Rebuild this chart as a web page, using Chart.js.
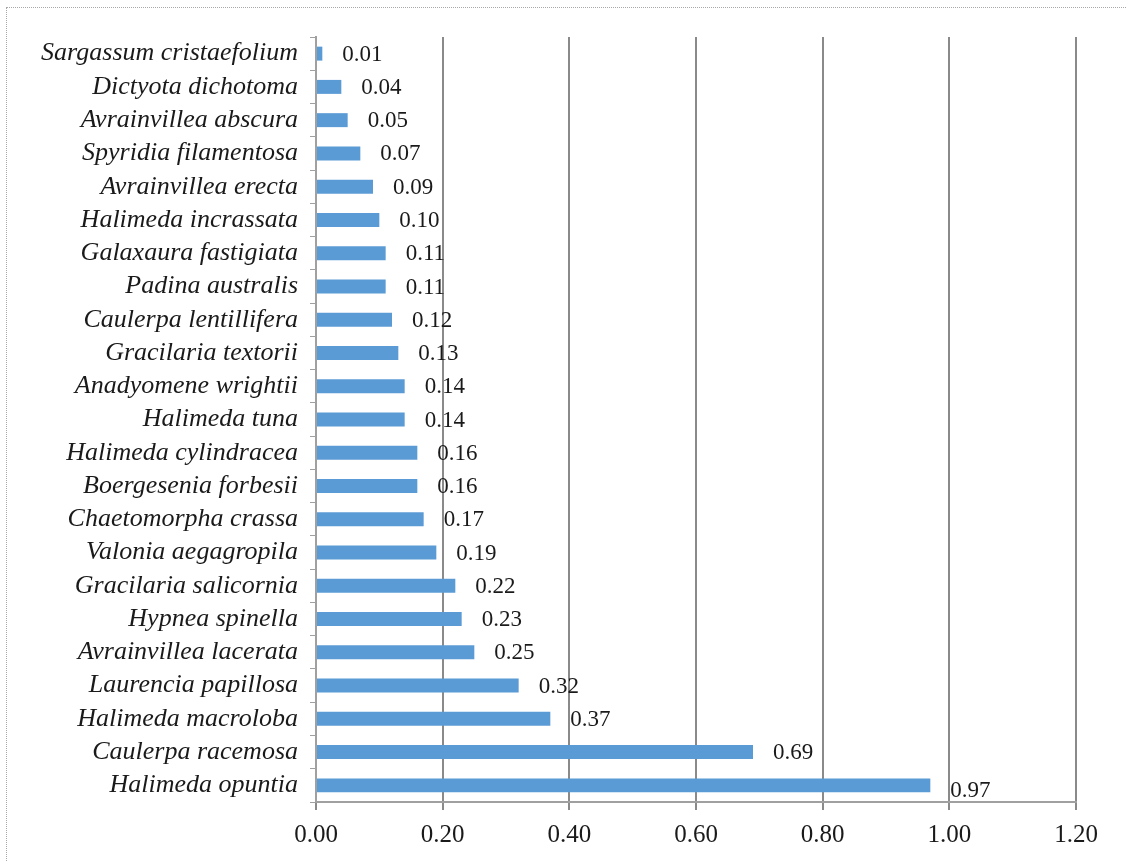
<!DOCTYPE html>
<html lang="en">
<head>
    <meta charset="UTF-8">
    <title>Algae bar chart</title>
    <script src="https://cdn.jsdelivr.net/npm/chart.js"></script>
    <style>
        body { margin: 0; background: #fff; }
        #wrap { position: relative; width: 1126px; height: 861px; }
        #frame { position: absolute; left: 6px; top: 7px; width: 1130px; height: 870px; border: 1px dotted #a8a8a8; box-sizing: border-box; }
    </style>
</head>
<body>
    <div id="wrap">
        <div id="frame"></div>
        <canvas id="chart" width="1126" height="861"></canvas>
    </div>

    <script>
        // species, top to bottom
        var species = [
            'Sargassum cristaefolium', 'Dictyota dichotoma', 'Avrainvillea abscura',
            'Spyridia filamentosa', 'Avrainvillea erecta', 'Halimeda incrassata',
            'Galaxaura fastigiata', 'Padina australis', 'Caulerpa lentillifera',
            'Gracilaria textorii', 'Anadyomene wrightii', 'Halimeda tuna',
            'Halimeda cylindracea', 'Boergesenia forbesii', 'Chaetomorpha crassa',
            'Valonia aegagropila', 'Gracilaria salicornia', 'Hypnea spinella',
            'Avrainvillea lacerata', 'Laurencia papillosa', 'Halimeda macroloba',
            'Caulerpa racemosa', 'Halimeda opuntia'
        ];
        var values = [
            0.01, 0.04, 0.05, 0.07, 0.09, 0.10, 0.11, 0.11, 0.12, 0.13, 0.14, 0.14,
            0.16, 0.16, 0.17, 0.19, 0.22, 0.23, 0.25, 0.32, 0.37, 0.69, 0.97
        ];
        var xMin = 0, xMax = 1.2, xStep = 0.2;

        var serif = '"Liberation Serif", "Times New Roman", serif';

        // value labels right of each bar
        var valueLabels = {
            id: 'valueLabels',
            afterDatasetsDraw: function(chart) {
                var ctx = chart.ctx;
                var meta = chart.getDatasetMeta(0);
                ctx.save();
                ctx.font = '23px ' + serif;
                ctx.fillStyle = '#1a1a1a';
                ctx.textBaseline = 'middle';
                ctx.textAlign = 'left';
                meta.data.forEach(function(bar, i) {
                    var dy = values[i] > 0.9 ? 6 : 1;
                    ctx.fillText(values[i].toFixed(2), bar.x + 20, bar.y + dy);
                });
                ctx.restore();
            }
        };

        var ctx = document.getElementById('chart').getContext('2d');
        var chart = new Chart(ctx, {
            type: 'bar',
            data: {
                labels: species,
                datasets: [{
                    data: values,
                    backgroundColor: '#5b9bd5',
                    borderWidth: 0,
                    categoryPercentage: 1,
                    barPercentage: 0.42
                }]
            },
            plugins: [valueLabels],
            options: {
                indexAxis: 'y',
                responsive: false,
                animation: false,
                layout: { padding: { left: 6, top: 37, right: 50, bottom: 0 } },
                plugins: {
                    legend: { display: false },
                    tooltip: { enabled: false }
                },
                scales: {
                    x: {
                        min: xMin,
                        max: xMax,
                        ticks: {
                            stepSize: xStep,
                            padding: 10,
                            color: '#1a1a1a',
                            font: { family: serif, size: 25 },
                            callback: function(v) { return Number(v).toFixed(2); }
                        },
                        grid: { color: '#8a8a8a', lineWidth: 2, tickLength: 8 },
                        border: { color: '#a0a0a0', width: 2 },
                        afterFit: function(scale) { scale.height = 59; }
                    },
                    y: {
                        ticks: {
                            autoSkip: false,
                            padding: 12,
                            color: '#1a1a1a',
                            font: { family: serif, size: 26, style: 'italic' }
                        },
                        grid: { drawOnChartArea: false, color: '#a0a0a0', tickLength: 6 },
                        border: { color: '#a0a0a0', width: 2 },
                        afterFit: function(scale) { scale.width = 310; }
                    }
                }
            }
        });
    </script>
</body>
</html>
